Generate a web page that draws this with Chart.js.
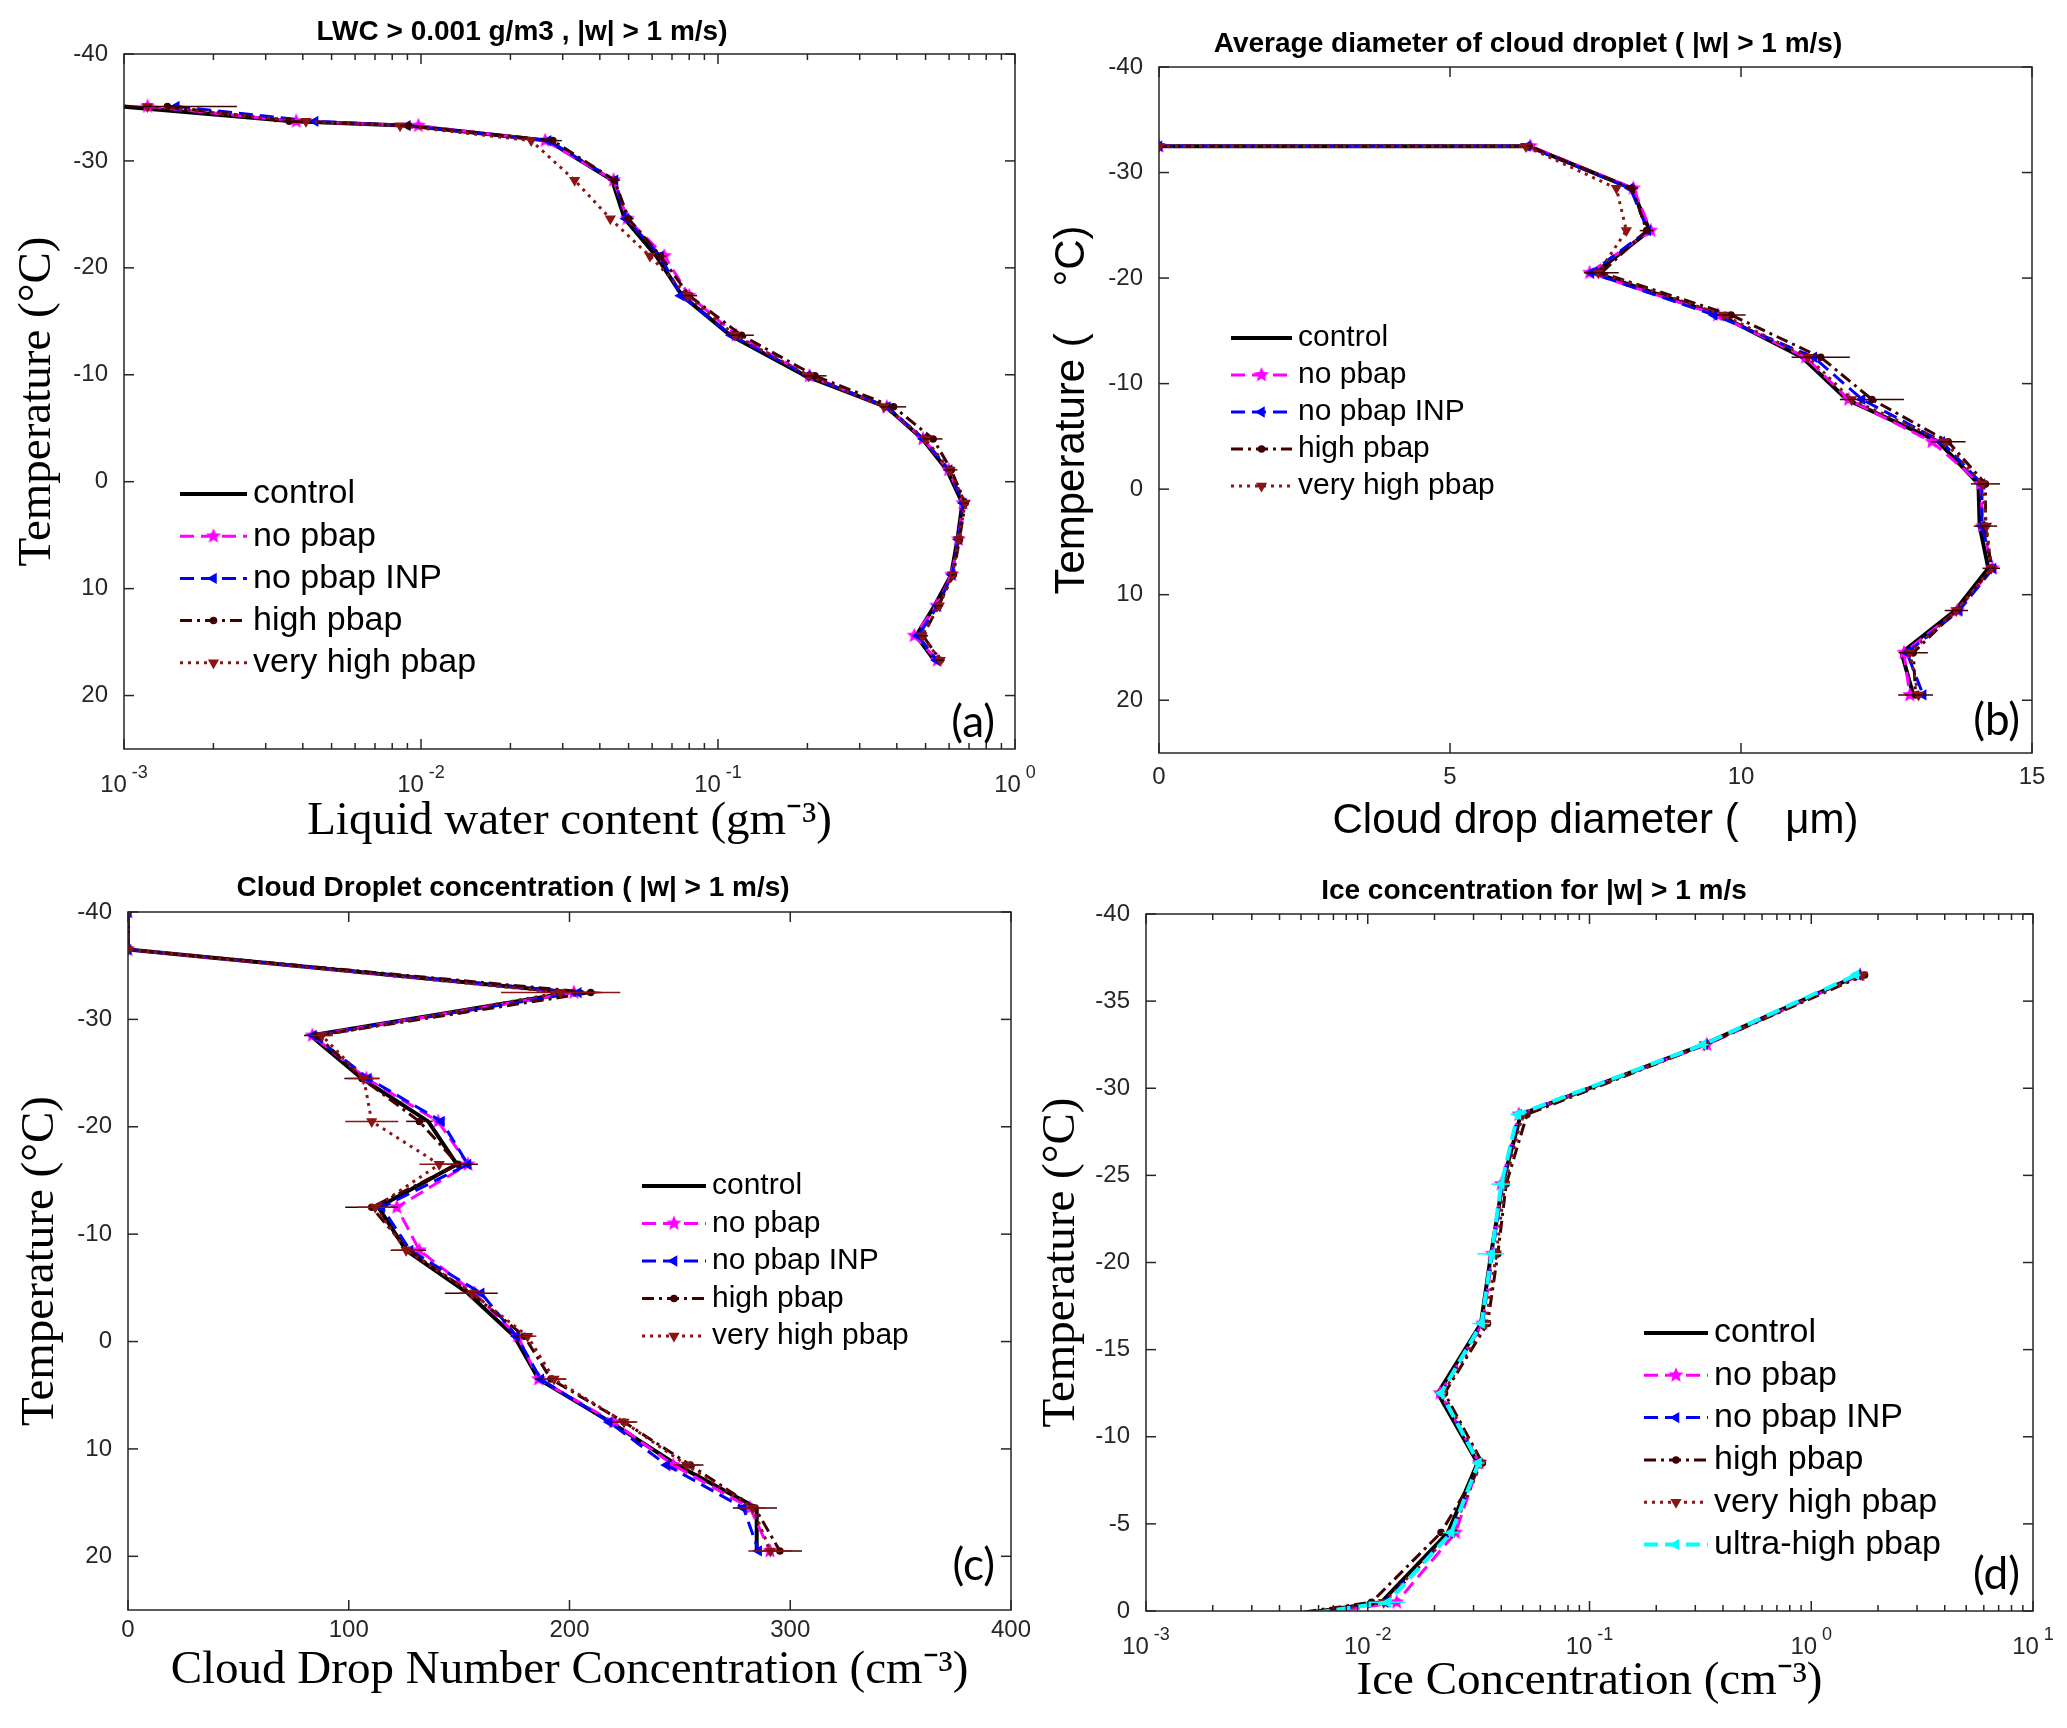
<!DOCTYPE html>
<html>
<head>
<meta charset="utf-8">
<script src="https://cdn.jsdelivr.net/npm/chart.js@4.4.1/dist/chart.umd.min.js"></script>
<style>
  html, body { margin: 0; padding: 0; background: #fff; }
  body { width: 2067px; height: 1728px; position: relative; overflow: hidden; }
  canvas { position: absolute; left: 0; top: 0; }
</style>
</head>
<body>
<canvas id="panel-a" width="2067" height="1728"></canvas>
<canvas id="panel-b" width="2067" height="1728"></canvas>
<canvas id="panel-c" width="2067" height="1728"></canvas>
<canvas id="panel-d" width="2067" height="1728"></canvas>
<script>
'use strict';

// ---- (a) liquid water content, g m-3 ----
const tempA = [-35.1, -33.7, -33.3, -31.9, -28.2, -24.6, -21.1, -17.4, -13.7, -9.9, -7.0, -4.0, -1.1, 2.0, 5.4, 8.7, 11.6, 14.4, 16.7];
const lwcControl   = [0.00098, 0.0037, 0.0092, 0.0267, 0.0440, 0.0485, 0.0620, 0.0757, 0.110, 0.197, 0.368, 0.488, 0.590, 0.665, 0.640, 0.610, 0.536, 0.465, 0.535];
const lwcNoPbap    = [0.0012, 0.0038, 0.0098, 0.0262, 0.0445, 0.0495, 0.0660, 0.0800, 0.115, 0.203, 0.370, 0.490, 0.598, 0.668, 0.645, 0.612, 0.545, 0.458, 0.548];
const lwcNoPbapINP = [0.0015, 0.0044, 0.0090, 0.0268, 0.0450, 0.0490, 0.0640, 0.0750, 0.111, 0.200, 0.372, 0.492, 0.600, 0.670, 0.646, 0.614, 0.550, 0.472, 0.545];
const lwcHigh      = [0.0014, 0.0036, 0.0091, 0.0278, 0.0448, 0.0500, 0.0640, 0.0800, 0.120, 0.212, 0.390, 0.530, 0.610, 0.680, 0.650, 0.620, 0.553, 0.490, 0.560];
const lwcVeryHigh  = [0.0012, 0.0041, 0.0085, 0.0235, 0.0329, 0.0434, 0.0590, 0.0790, 0.114, 0.202, 0.362, 0.500, 0.602, 0.680, 0.646, 0.616, 0.556, 0.486, 0.560];
const lwcErrHigh   = [0.001, 0.0004, 0.0006, 0.002, 0.002, 0.002, 0.003, 0.005, 0.012, 0.02, 0.04, 0.04, 0.03, 0.02, 0.01, 0.01, 0.02, 0.02, 0.02];
const yTicksA = [-40, -30, -20, -10, 0, 10, 20];
const xTicksA = [1e-3, 1e-2, 1e-1, 1];

// ---- (b) mean cloud drop diameter, um ----
const tempB = [-32.5, -32.5, -28.5, -24.5, -20.5, -16.5, -12.5, -8.5, -4.5, -0.5, 3.5, 7.5, 11.5, 15.5, 19.5];
const diamControl   = [0, 6.35, 8.12, 8.43, 7.49, 9.63, 11.05, 11.82, 13.39, 14.08, 14.10, 14.25, 13.68, 12.76, 12.96];
const diamNoPbap    = [0, 6.38, 8.15, 8.45, 7.40, 9.60, 11.11, 11.85, 13.28, 14.12, 14.15, 14.32, 13.72, 12.80, 12.90];
const diamNoPbapINP = [0, 6.33, 8.10, 8.40, 7.42, 9.54, 11.25, 12.08, 13.45, 14.14, 14.14, 14.33, 13.75, 12.85, 13.13];
const diamHigh      = [0, 6.36, 8.13, 8.38, 7.60, 9.83, 11.37, 12.25, 13.56, 14.20, 14.20, 14.30, 13.70, 12.96, 13.00];
const diamVeryHigh  = [0, 6.30, 7.86, 8.03, 7.55, 9.70, 11.15, 11.90, 13.50, 14.15, 14.22, 14.30, 13.70, 12.90, 13.05];
const diamErrHigh   = [0, 0.05, 0.10, 0.12, 0.30, 0.25, 0.50, 0.55, 0.30, 0.25, 0.20, 0.15, 0.20, 0.25, 0.30];
const xTicksB = [0, 5, 10, 15];

// ---- (c) cloud drop number concentration, cm-3 ----
const tempC = [-40, -36.5, -32.5, -28.5, -24.5, -20.5, -16.5, -12.5, -8.5, -4.5, -0.5, 3.5, 7.5, 11.5, 15.5, 19.5];
const cdncControl   = [0, 0, 200.6, 82.7, 105.9, 136.0, 149.0, 113.4, 126.0, 154.0, 175.0, 186.0, 218.6, 248.7, 284.8, 284.8];
const cdncNoPbap    = [0, 0, 202.0, 83.5, 108.0, 140.5, 154.0, 121.8, 132.0, 157.0, 176.5, 186.0, 220.0, 247.0, 281.8, 290.8];
const cdncNoPbapINP = [0, 0, 204.0, 84.0, 108.9, 142.0, 154.0, 115.0, 127.8, 160.0, 176.0, 187.0, 218.0, 244.0, 278.8, 285.7];
const cdncHigh      = [0, 0, 209.6, 85.7, 106.0, 132.0, 149.5, 110.4, 127.0, 155.5, 179.5, 191.6, 224.7, 254.7, 284.0, 295.3];
const cdncVeryHigh  = [0, 0, 196.0, 87.8, 106.8, 110.4, 141.0, 112.0, 126.0, 156.0, 181.0, 193.0, 224.7, 253.0, 283.0, 291.0];
const cdncErrHigh     = [0, 0, 5, 6, 8, 6, 9, 12, 8, 12, 4, 7, 6, 6, 10, 10];
const cdncErrVeryHigh = [0, 0, 27, 5, 7, 12, 9, 8, 6, 6, 4, 5, 5, 6, 6, 10];
const xTicksC = [0, 100, 200, 300, 400];

// ---- (d) ice concentration, cm-3 ----
const tempD = [-36.5, -32.5, -28.5, -24.5, -20.5, -16.5, -12.5, -8.5, -4.5, -0.5, 3.5];
const iceControl   = [1.64, 0.326, 0.0490, 0.0405, 0.0360, 0.0324, 0.0207, 0.0313, 0.0230, 0.0115, 0.00008];
const iceNoPbap    = [1.66, 0.338, 0.0480, 0.0400, 0.0365, 0.0330, 0.0212, 0.0318, 0.0249, 0.0135, 0.00010];
const iceNoPbapINP = [1.62, 0.330, 0.0478, 0.0405, 0.0365, 0.0328, 0.0214, 0.0318, 0.0238, 0.0120, 0.00009];
const iceHigh      = [1.74, 0.332, 0.0523, 0.0421, 0.0386, 0.0347, 0.0222, 0.0329, 0.0214, 0.0104, 0.00007];
const iceVeryHigh  = [1.70, 0.330, 0.0500, 0.0415, 0.0380, 0.0340, 0.0218, 0.0325, 0.0240, 0.0118, 0.00009];
const iceUltra     = [1.59, 0.325, 0.0475, 0.0400, 0.0362, 0.0326, 0.0214, 0.0316, 0.0238, 0.0123, 0.00009];
const iceErrUltra  = [0.08, 0.02, 0.0035, 0.004, 0.005, 0.003, 0.001, 0.002, 0.002, 0.0025, 0];
const yTicksD = [-40, -35, -30, -25, -20, -15, -10, -5, 0];
const xTicksD = [1e-3, 1e-2, 1e-1, 1, 10];

const SANS = '"Liberation Sans", Arial, sans-serif';
const SERIF = '"Liberation Serif", "Times New Roman", serif';
const TAGF = 'Lato, "Liberation Sans", sans-serif';
const AXIS = '#262626';

// small filled five-point star, used as a point image
function starImage(color, r) {
  const c = document.createElement('canvas');
  c.width = c.height = 2 * r + 2;
  const g = c.getContext('2d');
  g.fillStyle = color;
  g.beginPath();
  for (let i = 0; i < 10; i++) {
    const rad = i % 2 ? r * 0.45 : r;
    const a = -Math.PI / 2 + i * Math.PI / 5;
    g.lineTo(r + 1 + rad * Math.cos(a), r + 1 + rad * Math.sin(a));
  }
  g.closePath();
  g.fill();
  return c;
}

const STYLE = {
  control:   { label: 'control',         color: '#000000', width: 4, dash: [] },
  noPbap:    { label: 'no pbap',         color: '#ff00ff', width: 3, dash: [14, 7], point: starImage('#ff00ff', 8), r: 6 },
  noPbapINP: { label: 'no pbap INP',     color: '#0000ff', width: 3, dash: [14, 7], point: 'triangle', rot: -90, r: 5 },
  high:      { label: 'high pbap',       color: '#3f0000', width: 3, dash: [12, 5, 3, 5], point: 'circle', r: 3 },
  veryHigh:  { label: 'very high pbap',  color: '#8b1414', width: 3, dash: [3, 5], point: 'triangle', rot: 180, r: 5 },
  ultra:     { label: 'ultra-high pbap', color: '#00ffff', width: 4, dash: [14, 7], point: 'triangle', rot: -90, r: 5 },
};

function series(key, xs, temps, errs, idx) {
  const st = STYLE[key];
  return {
    label: st.label,
    data: xs.map((x, i) => ({ x, y: temps[i] })),
    showLine: true,
    borderColor: st.color,
    backgroundColor: st.color,
    borderWidth: st.width,
    borderDash: st.dash,
    pointStyle: st.point || 'circle',
    pointRotation: st.rot || 0,
    pointRadius: st.point ? st.r : 0,
    pointBorderWidth: 1.5,
    order: -idx,
    errX: errs || null,
  };
}

const panelDeco = {
  id: 'panelDeco',
  afterDatasetsDraw(chart) {
    const { ctx, chartArea: ca } = chart;
    const xs = chart.scales.x, ys = chart.scales.y;
    ctx.save();
    ctx.beginPath();
    ctx.rect(ca.left, ca.top, ca.right - ca.left, ca.bottom - ca.top);
    ctx.clip();
    ctx.lineWidth = 1.5;
    chart.data.datasets.forEach(ds => {
      if (!ds.errX) return;
      ctx.strokeStyle = ds.borderColor;
      ds.data.forEach((p, i) => {
        const e = ds.errX[i];
        if (!e) return;
        const lo = xs.getPixelForValue(Math.max(p.x - e, p.x * 0.05));
        const hi = xs.getPixelForValue(p.x + e);
        const py = ys.getPixelForValue(p.y);
        ctx.beginPath();
        ctx.moveTo(lo, py);
        ctx.lineTo(hi, py);
        ctx.stroke();
      });
    });
    ctx.restore();
  },
  afterDraw(chart, args, opts) {
    const { ctx, chartArea: ca } = chart;
    const xs = chart.scales.x, ys = chart.scales.y;
    ctx.save();

    // box
    ctx.strokeStyle = AXIS;
    ctx.lineWidth = 1.5;
    ctx.strokeRect(ca.left, ca.top, ca.right - ca.left, ca.bottom - ca.top);

    // inward tick marks on all four sides
    const tick = (x1, y1, x2, y2) => { ctx.beginPath(); ctx.moveTo(x1, y1); ctx.lineTo(x2, y2); ctx.stroke(); };
    ys.ticks.forEach(t => {
      const py = ys.getPixelForValue(t.value);
      tick(ca.left, py, ca.left + 10, py);
      tick(ca.right, py, ca.right - 10, py);
    });
    xs.ticks.forEach(t => {
      const px = xs.getPixelForValue(t.value);
      tick(px, ca.bottom, px, ca.bottom - 10);
      tick(px, ca.top, px, ca.top + 10);
    });
    if (opts.log) {
      const lo = Math.log10(xs.min), hi = Math.log10(xs.max);
      for (let k = lo; k < hi; k++) {
        for (let m = 2; m <= 9; m++) {
          const px = xs.getPixelForValue(m * Math.pow(10, k));
          tick(px, ca.bottom, px, ca.bottom - 6);
          tick(px, ca.top, px, ca.top + 6);
        }
      }
      // decade labels 10^n
      ctx.fillStyle = AXIS;
      ctx.textBaseline = 'middle';
      ctx.textAlign = 'left';
      xs.ticks.forEach(t => {
        const px = xs.getPixelForValue(t.value);
        const base = '10', exp = String(Math.round(Math.log10(t.value)));
        ctx.font = '24px ' + SANS;
        const w1 = ctx.measureText(base).width;
        ctx.font = '18px ' + SANS;
        const w2 = ctx.measureText(exp).width;
        const x0 = px - (w1 + w2 + 5) / 2;
        ctx.font = '24px ' + SANS;
        ctx.fillText(base, x0, ca.bottom + 36);
        ctx.font = '18px ' + SANS;
        ctx.fillText(exp, x0 + w1 + 5, ca.bottom + 24);
      });
    }

    // panel title
    ctx.fillStyle = '#000';
    ctx.font = 'bold 28px ' + SANS;
    ctx.textAlign = 'center';
    ctx.textBaseline = 'middle';
    ctx.fillText(opts.title.text, opts.title.x, opts.title.y);

    // legend inside the axes
    const lg = opts.legend;
    chart.data.datasets.forEach((ds, i) => {
      const y = lg.y + i * lg.gap;
      ctx.strokeStyle = ds.borderColor;
      ctx.fillStyle = ds.backgroundColor;
      ctx.lineWidth = ds.borderWidth;
      ctx.setLineDash(ds.borderDash || []);
      ctx.beginPath();
      ctx.moveTo(lg.x, y);
      ctx.lineTo(lg.x + lg.len, y);
      ctx.stroke();
      ctx.setLineDash([]);
      if (ds.pointRadius) {
        ctx.lineWidth = ds.pointBorderWidth;
        Chart.helpers.drawPoint(ctx, {
          pointStyle: ds.pointStyle, rotation: ds.pointRotation,
          radius: ds.pointRadius, borderWidth: ds.pointBorderWidth,
        }, lg.x + lg.len / 2, y);
      }
      ctx.fillStyle = '#000';
      ctx.font = lg.size + 'px ' + SANS;
      ctx.textAlign = 'left';
      ctx.textBaseline = 'middle';
      ctx.fillText(ds.label, lg.x + lg.len + 6, y);
    });

    // panel tag
    ctx.font = '44px ' + TAGF;
    ctx.textAlign = 'right';
    ctx.textBaseline = 'middle';
    ctx.fillText(opts.tag.text, ca.right - opts.tag.dx, ca.bottom - opts.tag.dy);
    ctx.restore();
  },
};

function makePanel(id, p) {
  const xScale = {
    type: p.log ? 'logarithmic' : 'linear',
    min: p.xTicks[0],
    max: p.xTicks[p.xTicks.length - 1],
    afterBuildTicks: s => { s.ticks = p.xTicks.map(v => ({ value: v })); },
    afterFit: s => { s.height = p.xh; s.paddingLeft = 0; s.paddingRight = 0; },
    grid: { display: false, drawTicks: false },
    border: { display: false },
    ticks: { display: !p.log, color: AXIS, font: { family: SANS, size: 24 }, padding: p.xTickPad || 8, maxRotation: 0 },
    title: { display: true, text: p.xTitle, color: '#000', font: p.titleFont, padding: { bottom: p.xTitlePad } },
  };
  const yScale = {
    type: 'linear',
    reverse: true,
    min: p.yTicks[0],
    max: p.yMax,
    afterBuildTicks: s => { s.ticks = p.yTicks.map(v => ({ value: v })); },
    afterFit: s => { s.width = p.yw; s.paddingTop = 0; s.paddingBottom = 0; },
    grid: { display: false, drawTicks: false },
    border: { display: false },
    ticks: { color: AXIS, font: { family: SANS, size: 24 }, padding: 16 },
    title: { display: true, text: p.yTitle, color: '#000', font: p.titleFont, padding: { top: p.yTitlePad } },
  };
  return new Chart(document.getElementById(id), {
    type: 'scatter',
    data: { datasets: p.datasets },
    options: {
      responsive: false,
      animation: false,
      events: [],
      layout: { padding: p.pad },
      elements: { line: { tension: 0 } },
      plugins: {
        legend: { display: false },
        tooltip: { enabled: false },
        title: { display: false },
        panelDeco: { log: p.log, title: p.title, legend: p.legend, tag: p.tag },
      },
      scales: { x: xScale, y: yScale },
    },
    plugins: [panelDeco],
  });
}

const serifTitle = { family: SERIF, size: 47 };
const sansTitle = { family: SANS, size: 42 };

makePanel('panel-a', {
  log: true, xTicks: xTicksA, yTicks: yTicksA, yMax: 25,
  pad: { left: 0, top: 54, right: 1052, bottom: 866 }, yw: 124, xh: 113,
  titleFont: serifTitle, xTitle: 'Liquid water content (gm\u207B\u00B3)', yTitle: 'Temperature (\u00B0C)',
  xTitlePad: 12, yTitlePad: 9,
  title: { text: 'LWC > 0.001 g/m3 , |w| > 1 m/s)', x: 522, y: 32 },
  legend: { x: 180, y: 494, gap: 42.2, len: 67, size: 34 },
  tag: { text: '(a)', dx: 20, dy: 26 },
  datasets: [
    series('control', lwcControl, tempA, null, 0),
    series('noPbap', lwcNoPbap, tempA, null, 1),
    series('noPbapINP', lwcNoPbapINP, tempA, null, 2),
    series('high', lwcHigh, tempA, lwcErrHigh, 3),
    series('veryHigh', lwcVeryHigh, tempA, null, 4),
  ],
});

makePanel('panel-b', {
  log: false, xTicks: xTicksB, yTicks: yTicksA, yMax: 25,
  pad: { left: 1033, top: 67, right: 35, bottom: 866 }, yw: 126, xh: 109, xTickPad: 10,
  titleFont: sansTitle, xTitle: 'Cloud drop diameter (    \u03BCm)', yTitle: 'Temperature (    \u00B0C)',
  xTitlePad: 15, yTitlePad: 14,
  title: { text: 'Average diameter of cloud droplet ( |w| > 1 m/s)', x: 1528, y: 44 },
  legend: { x: 1231, y: 338, gap: 37, len: 61, size: 30 },
  tag: { text: '(b)', dx: 12, dy: 32 },
  datasets: [
    series('control', diamControl, tempB, null, 0),
    series('noPbap', diamNoPbap, tempB, null, 1),
    series('noPbapINP', diamNoPbapINP, tempB, null, 2),
    series('high', diamHigh, tempB, diamErrHigh, 3),
    series('veryHigh', diamVeryHigh, tempB, null, 4),
  ],
});

makePanel('panel-c', {
  log: false, xTicks: xTicksC, yTicks: yTicksA, yMax: 25,
  pad: { left: 0, top: 912, right: 1056, bottom: 0 }, yw: 128, xh: 118, xTickPad: 6,
  titleFont: serifTitle, xTitle: 'Cloud Drop Number Concentration (cm\u207B\u00B3)', yTitle: 'Temperature (\u00B0C)',
  xTitlePad: 29, yTitlePad: 12,
  title: { text: 'Cloud Droplet concentration ( |w| > 1 m/s)', x: 513, y: 888 },
  legend: { x: 642, y: 1186, gap: 37.5, len: 64, size: 30 },
  tag: { text: '(c)', dx: 16, dy: 44 },
  datasets: [
    series('control', cdncControl, tempC, null, 0),
    series('noPbap', cdncNoPbap, tempC, null, 1),
    series('noPbapINP', cdncNoPbapINP, tempC, null, 2),
    series('high', cdncHigh, tempC, cdncErrHigh, 3),
    series('veryHigh', cdncVeryHigh, tempC, cdncErrVeryHigh, 4),
  ],
});

makePanel('panel-d', {
  log: true, xTicks: xTicksD, yTicks: yTicksD, yMax: 0,
  pad: { left: 1033, top: 914, right: 34, bottom: 0 }, yw: 113, xh: 117,
  titleFont: serifTitle, xTitle: 'Ice Concentration (cm\u207B\u00B3)', yTitle: 'Temperature (\u00B0C)',
  xTitlePad: 18, yTitlePad: 0,
  title: { text: 'Ice concentration for |w| > 1 m/s', x: 1534, y: 891 },
  legend: { x: 1644, y: 1333, gap: 42.3, len: 64, size: 34 },
  tag: { text: '(d)', dx: 13, dy: 36 },
  datasets: [
    series('control', iceControl, tempD, null, 0),
    series('noPbap', iceNoPbap, tempD, null, 1),
    series('noPbapINP', iceNoPbapINP, tempD, null, 2),
    series('high', iceHigh, tempD, null, 3),
    series('veryHigh', iceVeryHigh, tempD, null, 4),
    series('ultra', iceUltra, tempD, iceErrUltra, 5),
  ],
});
</script>
</body>
</html>
